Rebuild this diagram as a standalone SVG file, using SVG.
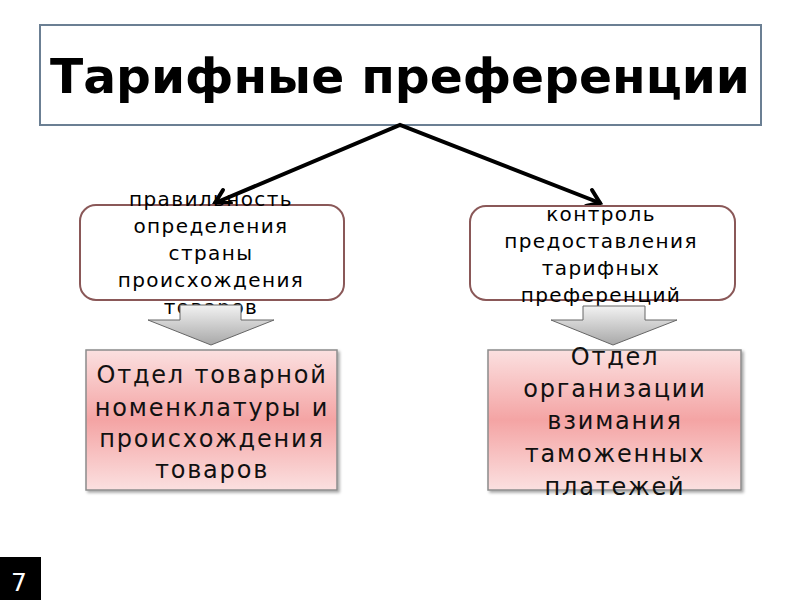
<svg xmlns="http://www.w3.org/2000/svg" width="800" height="600" viewBox="0 0 800 600">
<defs>
<style>
.t{font-family:"DejaVu Sans","Liberation Sans",sans-serif;fill:#000;text-anchor:middle}
.s{font-size:20px;letter-spacing:1.4px}
.m{font-size:24px;letter-spacing:1.8px;fill:#111}
.conn{stroke:#000;stroke-width:4;fill:none;stroke-linecap:round}
.rb{fill:#fff;stroke:#8a5858;stroke-width:2}
.pb{fill:url(#pink);stroke:#8c8c8c;stroke-width:1.5}
.ba{fill:url(#grey);stroke:#666;stroke-width:1}
</style>
<linearGradient id="pink" x1="0" y1="0" x2="0" y2="1">
<stop offset="0" stop-color="#fbe0e0"/>
<stop offset="0.5" stop-color="#f4a4a4"/>
<stop offset="1" stop-color="#fbe0e0"/>
</linearGradient>
<linearGradient id="grey" x1="0" y1="0" x2="0" y2="1">
<stop offset="0" stop-color="#f2f2f2"/>
<stop offset="1" stop-color="#a8a8a8"/>
</linearGradient>
<filter id="sh" x="-5%" y="-5%" width="115%" height="115%">
<feDropShadow dx="2" dy="2" stdDeviation="1.5" flood-color="#000" flood-opacity="0.35"/>
</filter>
</defs>
<rect width="800" height="600" fill="#fff"/>
<g id="title">
<rect x="40" y="25" width="721" height="100" fill="#fff" stroke="#6b7f93" stroke-width="2"/>
<text class="t" x="400" y="93" font-size="48" font-weight="bold" textLength="700" lengthAdjust="spacingAndGlyphs">Тарифные преференции</text>
</g>
<g id="connectors">
<polyline class="conn" points="215,203 400,125 600,203"/>
<polyline class="conn" points="223,190 215,203 231,203" stroke-width="3"/>
<polyline class="conn" points="592,190 600,203 586,206" stroke-width="3"/>
</g>
<g id="box-left">
<rect class="rb" x="80" y="205" width="264" height="95" rx="16"/>
<text class="t s" x="211" y="206">правильность</text>
<text class="t s" x="211" y="233">определения</text>
<text class="t s" x="211" y="260">страны</text>
<text class="t s" x="211" y="287">происхождения</text>
<text class="t s" x="211" y="314">товаров</text>
</g>
<g id="box-right">
<rect class="rb" x="470" y="206" width="265" height="94" rx="16"/>
<text class="t s" x="601" y="221">контроль</text>
<text class="t s" x="601" y="248">предоставления</text>
<text class="t s" x="601" y="275">тарифных</text>
<text class="t s" x="601" y="302">преференций</text>
</g>
<g id="arrow-left">
<polygon class="ba" points="180,305 241,305 241,320 274,320 211,345 148,320 180,320"/>
</g>
<g id="arrow-right">
<polygon class="ba" points="583,306 645,306 645,320 677,320 613,345 551,320 583,320"/>
</g>
<g id="dept-left">
<rect class="pb" x="86" y="350" width="251" height="140" filter="url(#sh)"/>
<text class="t m" x="212" y="383">Отдел товарной</text>
<text class="t m" x="212" y="416">номенклатуры и</text>
<text class="t m" x="212" y="447">происхождения</text>
<text class="t m" x="212" y="478">товаров</text>
</g>
<g id="dept-right">
<rect class="pb" x="488" y="350" width="253" height="140" filter="url(#sh)"/>
<text class="t m" x="615" y="365">Отдел</text>
<text class="t m" x="615" y="397">организации</text>
<text class="t m" x="615" y="429">взимания</text>
<text class="t m" x="615" y="462">таможенных</text>
<text class="t m" x="615" y="495">платежей</text>
</g>
<g id="slide-num">
<rect x="0" y="557" width="41" height="43" fill="#000"/>
<text x="19" y="591" font-family="DejaVu Sans,sans-serif" font-size="25" fill="#fff" text-anchor="middle">7</text>
</g>
</svg>
